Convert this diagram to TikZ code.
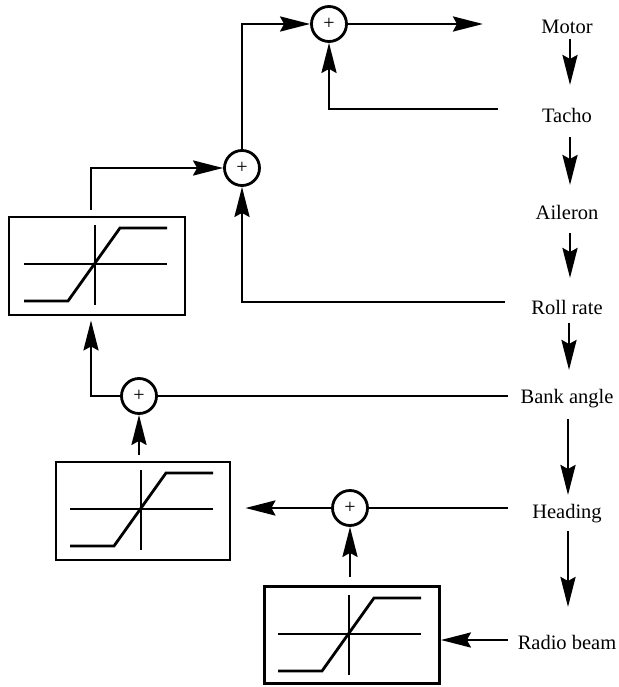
\documentclass[tikz,border=0pt]{standalone}
\usepackage{fontspec}
\setmainfont{Liberation Serif}
\usetikzlibrary{arrows.meta,calc}
\begin{document}
\begin{tikzpicture}[x=1pt,y=-1pt,
  wire/.style={line width=2.8pt},
  arr/.style={wire,-{Stealth[length=30pt,width=15pt,inset=4pt]}},
  sum/.style={circle,draw,line width=2.8pt,minimum size=35pt,inner sep=0pt,font=\fontsize{20}{20}\selectfont},
  box/.style={rectangle,draw,line width=2.8pt,inner sep=0pt},
  lab/.style={font=\fontsize{20.5}{24}\selectfont,text height=13.5pt,text depth=0pt,inner sep=0pt},
  satgraph/.pic={
    \draw[line width=1.1pt] (-71,0) -- (72,0);
    \draw[line width=1.1pt] (0,-39) -- (0,41);
    \draw[line width=2.8pt] (-71,37) -- (-27,37) -- (25,-36) -- (72,-36);
  }]
\useasboundingbox (0,0) rectangle (618,687);

% labels
\node[lab] (motor)   at (567,27)  {Motor};
\node[lab] (tacho)   at (567,116) {Tacho};
\node[lab] (aileron) at (567,213) {Aileron};
\node[lab] (roll)    at (567,308) {Roll rate};
\node[lab] (bank)    at (567,397) {Bank angle};
\node[lab] (heading) at (567,512) {Heading};
\node[lab] (radio)   at (567,643) {Radio beam};

% chain arrows
\draw[arr,shorten <=12pt,shorten >=31pt] ([xshift=3pt]motor.center) -- ([xshift=3pt]tacho.center);
\draw[arr,shorten <=21pt,shorten >=28pt] ([xshift=3pt]tacho.center) -- ([xshift=3pt]aileron.center);
\draw[arr,shorten <=20pt,shorten >=30pt] ([xshift=3pt]aileron.center) -- ([xshift=3pt]roll.center);
\draw[arr,shorten <=15pt,shorten >=27pt] ([xshift=2pt]roll.center) -- ([xshift=2pt]bank.center);
\draw[arr,shorten <=22pt,shorten >=17pt] ([xshift=1pt]bank.center) -- ([xshift=1pt]heading.center);
\draw[arr,shorten <=19pt,shorten >=36pt] ([xshift=1pt]heading.center) -- ([xshift=1pt]radio.center);

% summing junctions
\node[sum] (s1) at (329,24)  {+};
\node[sum] (s2) at (242,168) {+};
\node[sum] (s3) at (139,396) {+};
\node[sum] (s4) at (350,508) {+};

% limiter boxes
\node[box,minimum width=176pt,minimum height=98pt] (b1) at (97,266) {};
\node[box,minimum width=174pt,minimum height=98pt] (b2) at (143,511) {};
\node[box,minimum width=175pt,minimum height=97pt] (b3) at (352,635) {};
\pic at (95,264) {satgraph};
\pic at (141,509) {satgraph};
\pic at (349,634) {satgraph};

% free ends
\coordinate (out1) at (483,24);
\coordinate (tachoout) at (498,109);
\coordinate (rollout) at (505,302);
\coordinate (bankout) at (508,396);
\coordinate (headout) at (508,508);
\coordinate (radioout) at (508,640);

% connectors
\draw[arr] (s1.east) -- (out1);
\draw[arr] (tachoout) -| (s1.south);
\draw[arr] (s2.north) |- (s1.west);
\draw[arr] (rollout) -| (s2.south);
\draw[arr] ($(b1.north)+(-6,-6)$) |- (s2.west);
\draw[arr] (s3.west) -| ($(b1.south)+(-6,4)$);
\draw[wire] (bankout) -- (s3.east);
\draw[arr] ($(b2.north -| s3.south)+(0,-6)$) -- (s3.south);
\draw[wire] (headout) -- (s4.east);
\draw[arr] (s4.west) -- ($(b2.east |- s4.west)+(14,0)$);
\draw[arr] ($(b3.north -| s4.south)+(0,-8)$) -- (s4.south);
\draw[arr] (radioout) -- (radioout -| b3.east);
\end{tikzpicture}
\end{document}
